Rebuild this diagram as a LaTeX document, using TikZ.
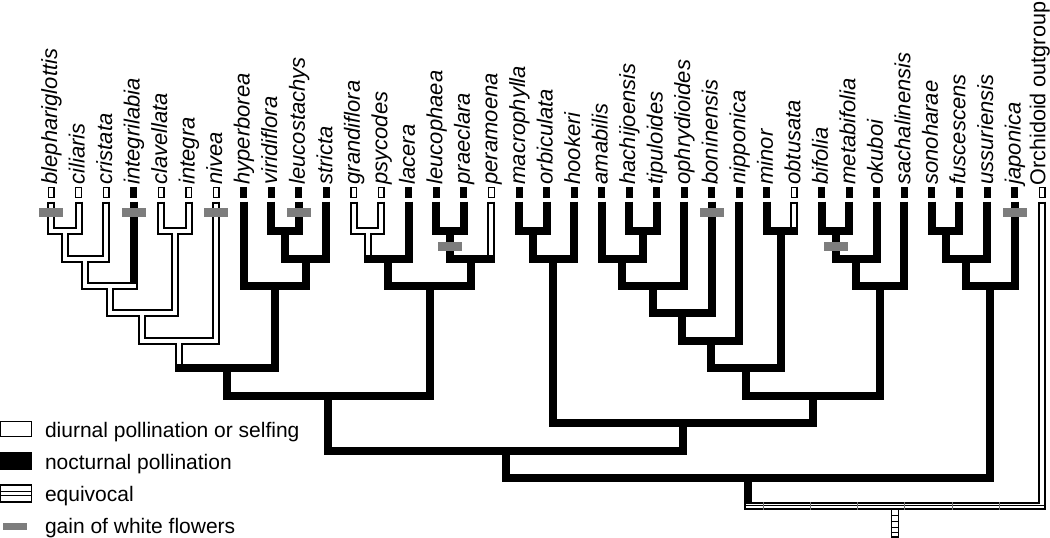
\documentclass[tikz,border=0pt]{standalone}
\usepackage{fontspec}
\setmainfont{Liberation Sans}
\usetikzlibrary{calc}
\definecolor{gaincol}{RGB}{125,125,125}
\tikzset{
 blk/.style={line width=8pt, line cap=butt},
 blkbar/.style={line width=8pt, line cap=rect},
 inn/.style={white, line width=4pt, line cap=butt},
 innbar/.style={white, line width=4pt, line cap=rect},
 wmark/.style={draw=black, fill=white, line width=1.4pt, minimum width=5.6pt, minimum height=9.6pt, inner sep=0pt, outer sep=0pt},
 bmark/.style={fill=black, minimum width=7pt, minimum height=11pt, inner sep=0pt, outer sep=0pt},
 gain/.style={fill=gaincol, minimum width=24pt, minimum height=9pt, inner sep=0pt, outer sep=0pt},
 lab/.style={anchor=base west, rotate=90, inner sep=0pt, outer sep=0pt, font=\fontsize{22}{26}\selectfont\itshape},
 labup/.style={anchor=base west, rotate=90, inner sep=0pt, outer sep=0pt, font=\fontsize{21.6}{26}\selectfont},
 leg/.style={anchor=base west, inner sep=0pt, outer sep=0pt, font=\fontsize{21}{25}\selectfont},
}
\newcommand{\mkclade}[3]{%
 \draw[blkbar] (#2 |- #1) -- (#3 |- #1);
 \draw[blk] (#2) -- (#2 |- #1);
 \draw[blk] (#3) -- (#3 |- #1);}
\begin{document}
\begin{tikzpicture}[x=1pt,y=-1pt]
\useasboundingbox (0,0) rectangle (1050,538);
% tips
\coordinate (t1) at (51.00,201.5);
\coordinate (t2) at (78.53,201.5);
\coordinate (t3) at (106.06,201.5);
\coordinate (t4) at (133.59,201.5);
\coordinate (t5) at (161.12,201.5);
\coordinate (t6) at (188.65,201.5);
\coordinate (t7) at (216.18,201.5);
\coordinate (t8) at (243.71,201.5);
\coordinate (t9) at (271.24,201.5);
\coordinate (t10) at (298.77,201.5);
\coordinate (t11) at (326.30,201.5);
\coordinate (t12) at (353.83,201.5);
\coordinate (t13) at (381.36,201.5);
\coordinate (t14) at (408.89,201.5);
\coordinate (t15) at (436.42,201.5);
\coordinate (t16) at (463.95,201.5);
\coordinate (t17) at (491.48,201.5);
\coordinate (t18) at (519.01,201.5);
\coordinate (t19) at (546.54,201.5);
\coordinate (t20) at (574.07,201.5);
\coordinate (t21) at (601.60,201.5);
\coordinate (t22) at (629.13,201.5);
\coordinate (t23) at (656.66,201.5);
\coordinate (t24) at (684.19,201.5);
\coordinate (t25) at (711.72,201.5);
\coordinate (t26) at (739.25,201.5);
\coordinate (t27) at (766.78,201.5);
\coordinate (t28) at (794.31,201.5);
\coordinate (t29) at (821.84,201.5);
\coordinate (t30) at (849.37,201.5);
\coordinate (t31) at (876.90,201.5);
\coordinate (t32) at (904.43,201.5);
\coordinate (t33) at (931.96,201.5);
\coordinate (t34) at (959.49,201.5);
\coordinate (t35) at (987.02,201.5);
\coordinate (t36) at (1014.55,201.5);
\coordinate (t37) at (1042.08,201.5);
% internal nodes
\coordinate (a12) at (64.77,231);
\coordinate (a123) at (85.41,258.5);
\coordinate (a1234) at (109.50,286);
\coordinate (a56) at (174.89,231);
\coordinate (a16) at (142.20,313.4);
\coordinate (a17) at (179.19,340.8);
\coordinate (b910) at (285.00,231);
\coordinate (b911) at (305.65,258.5);
\coordinate (b811) at (274.68,286);
\coordinate (c111) at (226.94,368.3);
\coordinate (d1213) at (367.60,231);
\coordinate (d1214) at (388.24,258.5);
\coordinate (d1516) at (450.19,231);
\coordinate (d1517) at (470.83,258.5);
\coordinate (d1217) at (429.54,286);
\coordinate (e117) at (328.24,395.7);
\coordinate (f1819) at (532.78,231);
\coordinate (f1820) at (553.42,258.5);
\coordinate (g2223) at (642.90,231);
\coordinate (g2123) at (622.25,258.5);
\coordinate (g2124) at (653.22,286);
\coordinate (g2125) at (682.47,313.4);
\coordinate (g2126) at (710.86,340.8);
\coordinate (g2728) at (780.55,231);
\coordinate (g2128) at (745.70,368.3);
\coordinate (h2930) at (835.60,231);
\coordinate (h2931) at (856.25,258.5);
\coordinate (h2932) at (880.34,286);
\coordinate (i2132) at (813.02,395.7);
\coordinate (j1832) at (683.22,423.2);
\coordinate (k132) at (505.73,450.6);
\coordinate (l3334) at (945.73,231);
\coordinate (l3335) at (966.38,258.5);
\coordinate (l3336) at (990.47,286);
\coordinate (m136) at (748.10,478);
\coordinate (root) at (895.09,505.5);
% layer 1: black outlines / black branches
\mkclade{a12}{t1}{t2}
\mkclade{a123}{a12}{t3}
\mkclade{a1234}{a123}{t4}
\mkclade{a56}{t5}{t6}
\mkclade{a16}{a1234}{a56}
\mkclade{a17}{a16}{t7}
\mkclade{b910}{t9}{t10}
\mkclade{b911}{b910}{t11}
\mkclade{b811}{t8}{b911}
\mkclade{c111}{a17}{b811}
\mkclade{d1213}{t12}{t13}
\mkclade{d1214}{d1213}{t14}
\mkclade{d1516}{t15}{t16}
\mkclade{d1517}{d1516}{t17}
\mkclade{d1217}{d1214}{d1517}
\mkclade{e117}{c111}{d1217}
\mkclade{f1819}{t18}{t19}
\mkclade{f1820}{f1819}{t20}
\mkclade{g2223}{t22}{t23}
\mkclade{g2123}{t21}{g2223}
\mkclade{g2124}{g2123}{t24}
\mkclade{g2125}{g2124}{t25}
\mkclade{g2126}{g2125}{t26}
\mkclade{g2728}{t27}{t28}
\mkclade{g2128}{g2126}{g2728}
\mkclade{h2930}{t29}{t30}
\mkclade{h2931}{h2930}{t31}
\mkclade{h2932}{h2931}{t32}
\mkclade{i2132}{g2128}{h2932}
\mkclade{j1832}{f1820}{i2132}
\mkclade{k132}{e117}{j1832}
\mkclade{l3334}{t33}{t34}
\mkclade{l3335}{l3334}{t35}
\mkclade{l3336}{l3335}{t36}
\mkclade{m136}{k132}{l3336}
\mkclade{root}{m136}{t37}
% layer 2: white interiors (diurnal)
\draw[inn] ($(t1)+(0,2)$) -- (t1 |- a12);
\draw[inn] ($(t2)+(0,2)$) -- (t2 |- a12);
\draw[inn] ($(t3)+(0,2)$) -- (t3 |- a123);
\draw[inn] ($(t5)+(0,2)$) -- (t5 |- a56);
\draw[inn] ($(t6)+(0,2)$) -- (t6 |- a56);
\draw[inn] ($(t7)+(0,2)$) -- (t7 |- a17);
\draw[inn] ($(t12)+(0,2)$) -- (t12 |- d1213);
\draw[inn] ($(t13)+(0,2)$) -- (t13 |- d1213);
\draw[inn] ($(t17)+(0,2)$) -- ($(t17 |- d1517)+(0,-4)$);
\draw[inn] ($(t28)+(0,2)$) -- ($(t28 |- g2728)+(0,-4)$);
\draw[inn] ($(t37)+(0,2)$) -- (t37 |- root);
\draw[inn] (a12) -- (a12 |- a123);
\draw[inn] (a123) -- (a123 |- a1234);
\draw[inn] (a1234) -- (a1234 |- a16);
\draw[inn] (a56) -- (a56 |- a16);
\draw[inn] (a16) -- (a16 |- a17);
\draw[inn] (a17) -- ($(a17 |- c111)+(0,-4)$);
\draw[inn] (d1213) -- ($(d1213 |- d1214)+(0,-4)$);
\draw[innbar] (t1 |- a12) -- (t2 |- a12);
\draw[innbar] (a12 |- a123) -- (t3 |- a123);
\draw[innbar] (a123 |- a1234) -- (t4 |- a1234);
\draw[innbar] (t5 |- a56) -- (t6 |- a56);
\draw[innbar] (a1234 |- a16) -- (a56 |- a16);
\draw[innbar] (a16 |- a17) -- (t7 |- a17);
\draw[innbar] (t12 |- d1213) -- (t13 |- d1213);
\draw[innbar] (m136 |- root) -- (t37 |- root);
% equivocal root pattern
\draw[line width=0.8pt] ($(m136 |- root)+(-2,0)$) -- ($(t37 |- root)+(2,0)$);
\foreach \xx in {763,810,857,904,952,999}
  \draw[black!55, line width=0.6pt] (\xx,501.5) -- (\xx,509.5);
\draw[line width=1.2pt, fill=white] ($(root)+(-3.3,4.2)$) rectangle ($(root)+(3.3,31.5)$);
\foreach \dy in {10,16,21.5,26.5}
  \draw[line width=1pt] ($(root)+(-3.3,\dy)$) -- ($(root)+(3.3,\dy)$);
% tip markers
\foreach \i in {1,2,3,5,6,7,12,13,17,28,37}
  \node[wmark] (m\i) at ($(t\i)+(0,-9)$) {};
\foreach \i in {4,8,9,10,11,14,15,16,18,19,20,21,22,23,24,25,26,27,29,30,31,32,33,34,35,36}
  \node[bmark] (m\i) at ($(t\i)+(0,-9)$) {};
% gains of white flowers
\foreach \i in {1,4,7,10,25,36}
  \node[gain] (g\i) at ($(t\i)+(0,11)$) {};
\node[gain] (gd1516) at ($(d1516)+(0,15.3)$) {};
\node[gain] (gh2930) at ($(h2930)+(0,15.3)$) {};
% labels
\foreach \i/\n in {1/blephariglottis,2/ciliaris,3/cristata,4/integrilabia,5/clavellata,6/integra,7/nivea,8/hyperborea,9/viridiflora,10/leucostachys,11/stricta,12/grandiflora,13/psycodes,14/lacera,15/leucophaea,16/praeclara,17/peramoena,18/macrophylla,19/orbiculata,20/hookeri,21/amabilis,22/hachijoensis,23/tipuloides,24/ophrydioides,25/boninensis,26/nipponica,27/minor,28/obtusata,29/bifolia,30/metabifolia,31/okuboi,32/sachalinensis,33/sonoharae,34/fuscescens,35/ussuriensis,36/japonica}
  \node[lab] (lab\i) at ($(t\i)+(6,-17)$) {\n};
\node[labup] (lab37) at ($(t37)+(3.2,-16)$) {Orchidoid outgroup};
% legend
\draw[line width=1.4pt, fill=white] (0.7,421.7) rectangle (31.3,436.3);
\fill (0,452) rectangle (32,469.5);
\draw[line width=1.4pt, fill=white] (0.7,485) rectangle (31.3,502);
\draw[line width=1.2pt] (0.7,491.3) -- (31.3,491.3);
\draw[line width=1.2pt] (0.7,495.8) -- (31.3,495.8);
\fill[gaincol] (3,522.5) rectangle (27,529.5);
\node[leg] (leg1) at (45,437) {diurnal pollination or selfing};
\node[leg] (leg2) at (45,469) {nocturnal pollination};
\node[leg] (leg3) at (45,501.5) {equivocal};
\node[leg] (leg4) at (45,533) {gain of white flowers};
\end{tikzpicture}
\end{document}
